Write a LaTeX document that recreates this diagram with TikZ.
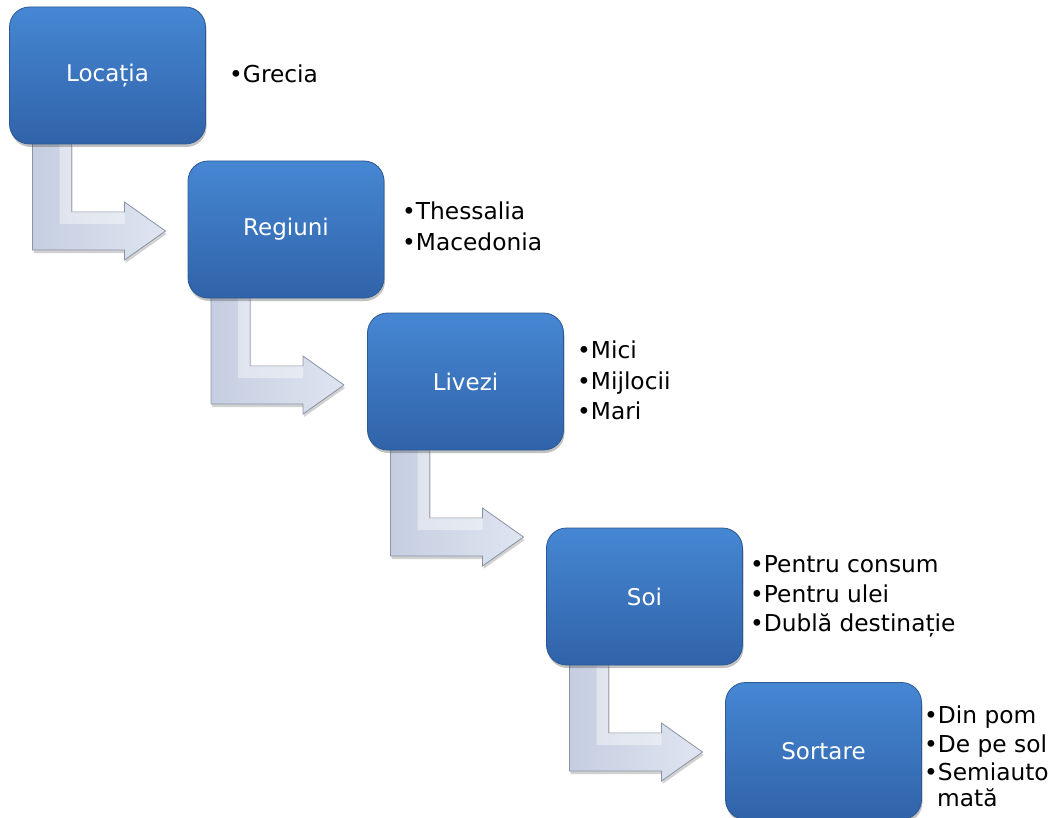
\documentclass[tikz,border=0pt]{standalone}
\usepackage{fontspec}
\setmainfont{DejaVu Sans}
\usetikzlibrary{shadows,calc}

\definecolor{boxtop}{HTML}{4687D3}
\definecolor{boxmid}{HTML}{3C7AC6}
\definecolor{boxbot}{HTML}{3063A9}
\definecolor{boxedge}{HTML}{2B5893}
\definecolor{arrowL}{HTML}{C5CEE1}
\definecolor{arrowR}{HTML}{DFE5F0}
\definecolor{arrowedge}{HTML}{8A93A4}

\tikzset{
  stage/.style={draw=boxedge, line width=0.8pt, rounded corners=20pt,
    minimum width=196pt, minimum height=137pt, inner sep=0pt,
    top color=boxtop, middle color=boxmid, bottom color=boxbot,
    text=white, font=\fontsize{23}{27}\selectfont,
    drop shadow={shadow xshift=1pt, shadow yshift=-3pt, opacity=0.35, fill=black!70}},
  item/.style={anchor=base west, inner sep=0pt, text=black,
    font=\fontsize{23.3}{30}\selectfont},
  flow/.style={draw=arrowedge, line width=0.8pt, line join=miter,
    left color=arrowL, right color=arrowR,
    drop shadow={shadow xshift=1pt, shadow yshift=-3pt, opacity=0.3, fill=black!60}},
  flowlight/.style={fill=white, opacity=0.4},
  pics/bentarrow/.style={code={
    \path[flow] (23,-1) -- (62,-1) -- (62,68) -- (115,68) -- (115,58)
      -- (156,87) -- (115,116) -- (115,106) -- (23,106) -- cycle;
    \path[flowlight] (50,-1) -- (62,-1) -- (62,68) -- (50,80) -- cycle;
    \path[flowlight] (50,80) -- (62,68) -- (115,68) -- (115,80) -- cycle;
  }}
}

\begin{document}
\begin{tikzpicture}[x=1pt, y=-1pt]
  \useasboundingbox (0,0) rectangle (1056,818);

  % the five stages of the chain
  \coordinate (p1) at (107.5,75.5);
  \coordinate (p2) at (286,229.5);
  \coordinate (p3) at (465.5,381.5);
  \coordinate (p4) at (644.5,596.5);
  \coordinate (p5) at (823.5,751);

  % bent arrows below each stage, drawn first so the boxes cover their tops
  \path (p1) ++(-98,68.5) pic {bentarrow};
  \path (p2) ++(-98,68.5) pic {bentarrow};
  \path (p3) ++(-98,68.5) pic {bentarrow};
  \path (p4) ++(-98,68.5) pic {bentarrow};

  \node[stage] (b1) at (p1) {Locația};
  \node[stage] (b2) at (p2) {Regiuni};
  \node[stage] (b3) at (p3) {Livezi};
  \node[stage] (b4) at (p4) {Soi};
  \node[stage] (b5) at (p5) {Sortare};

  % bullet lists beside each stage
  \node[item] (t1a) at (229,83) {•Grecia};

  \node[item] (t2a) at (402,219) {•Thessalia};
  \node[item] (t2b) at (402,250) {•Macedonia};

  \node[item] (t3a) at (577,358) {•Mici};
  \node[item] (t3b) at (577,389) {•Mijlocii};
  \node[item] (t3c) at (577,419) {•Mari};

  \node[item] (t4a) at (750,572) {•Pentru consum};
  \node[item] (t4b) at (750,602) {•Pentru ulei};
  \node[item] (t4c) at (750,631) {•Dublă destinație};

  \node[item] (t5a) at (924,723) {•Din pom};
  \node[item] (t5b) at (924,752) {•De pe sol};
  \node[item] (t5c) at (924,780) {•Semiauto};
  \node[item] (t5d) at (937,806) {mată};
\end{tikzpicture}
\end{document}
